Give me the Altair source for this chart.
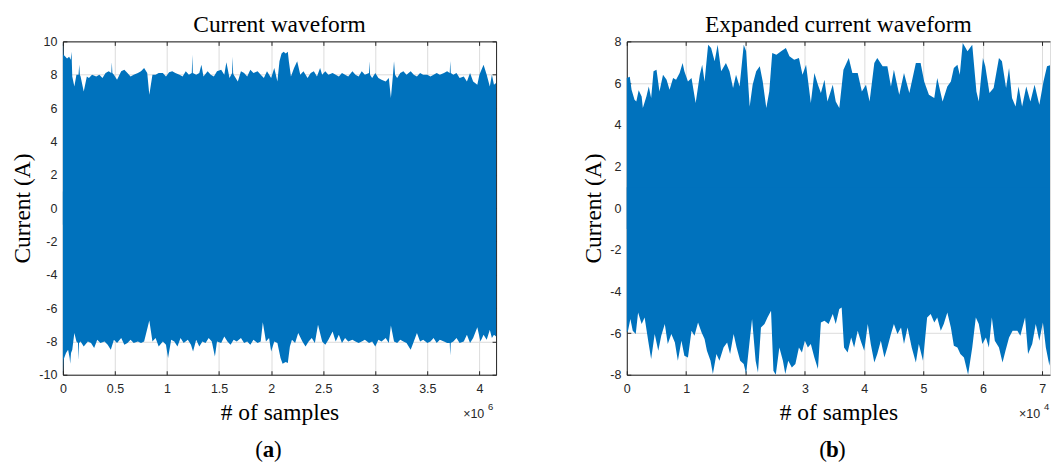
import altair as alt
import pandas as pd

BLUE = "#0072BD"
AXC = "#262626"

# ---------------- Panel (a): full current waveform (x in 1e6 samples, current in A)
a_upper = [
    (0.000, 9.9), (0.006, 9.2), (0.02, 9.1), (0.04, 8.97), (0.06, 9.07), (0.075, 8.9), (0.083, 9.37),
    (0.09, 7.9), (0.11, 7.3), (0.13, 8.0), (0.15, 8.0), (0.157, 8.6), (0.163, 8.0), (0.17, 7.9), (0.2, 7.0),
    (0.23, 7.9), (0.25, 7.8), (0.28, 8.0), (0.32, 7.9), (0.35, 8.0), (0.38, 7.8), (0.41, 8.1), (0.44, 8.2),
    (0.465, 8.1), (0.47, 8.74), (0.475, 8.1), (0.49, 8.0), (0.52, 7.7), (0.56, 8.2), (0.59, 8.3), (0.62, 8.1),
    (0.65, 7.9), (0.68, 8.0), (0.72, 8.1), (0.75, 8.2), (0.78, 8.4), (0.81, 8.1), (0.83, 6.8), (0.86, 8.0),
    (0.89, 8.0), (0.92, 8.1), (0.96, 8.1), (0.99, 7.9), (1.02, 8.15), (1.05, 8.2), (1.08, 8.1), (1.12, 8.0),
    (1.15, 7.9), (1.18, 8.2), (1.21, 8.0), (1.238, 8.1), (1.243, 9.2), (1.248, 8.1), (1.28, 8.0), (1.31, 8.1),
    (1.33, 8.6), (1.35, 7.9), (1.39, 8.2), (1.42, 8.0), (1.45, 7.9), (1.48, 8.2), (1.52, 8.3), (1.55, 8.0),
    (1.57, 8.74), (1.6, 7.8), (1.625, 8.1), (1.63, 9.07), (1.635, 8.1), (1.64, 8.0), (1.68, 7.6), (1.71, 8.2),
    (1.74, 8.1), (1.77, 7.9), (1.8, 8.3), (1.83, 8.1), (1.87, 8.2), (1.9, 8.0), (1.93, 7.8), (1.96, 8.2),
    (2.0, 7.8), (2.03, 8.4), (2.06, 7.6), (2.08, 8.8), (2.1, 9.27), (2.12, 9.37), (2.14, 9.27), (2.16, 9.37),
    (2.17, 8.8), (2.19, 7.9), (2.22, 8.4), (2.25, 8.8), (2.28, 8.0), (2.31, 8.2), (2.35, 7.8), (2.38, 8.1),
    (2.41, 8.2), (2.44, 7.9), (2.47, 8.4), (2.49, 8.0), (2.52, 8.2), (2.55, 8.0), (2.59, 8.1), (2.62, 8.0),
    (2.65, 7.9), (2.68, 8.1), (2.71, 8.0), (2.74, 7.9), (2.78, 8.2), (2.81, 8.0), (2.84, 7.9), (2.87, 8.2),
    (2.9, 8.0), (2.94, 8.1), (2.945, 8.8), (2.95, 8.0), (2.97, 7.8), (3.0, 8.1), (3.03, 7.8), (3.06, 7.7),
    (3.1, 7.6), (3.13, 7.8), (3.15, 6.6), (3.17, 8.0), (3.18, 8.8), (3.19, 8.0), (3.21, 7.8), (3.24, 8.1),
    (3.27, 8.2), (3.3, 8.0), (3.34, 8.2), (3.37, 8.0), (3.4, 7.9), (3.43, 8.1), (3.46, 8.0), (3.5, 8.0),
    (3.53, 7.9), (3.56, 8.0), (3.59, 8.1), (3.62, 8.0), (3.66, 8.1), (3.69, 8.2), (3.715, 8.1), (3.72, 8.82),
    (3.725, 8.1), (3.75, 8.0), (3.78, 8.1), (3.81, 7.8), (3.85, 7.9), (3.88, 7.6), (3.91, 8.1), (3.94, 7.6),
    (3.98, 7.4), (4.0, 8.0), (4.04, 8.6), (4.07, 8.0), (4.1, 7.3), (4.12, 8.0), (4.14, 7.4), (4.16, 7.5),
]
a_lower = [
    (0.0, -9.93), (0.006, -9.1), (0.03, -8.7), (0.05, -8.5), (0.065, -9.0), (0.07, -9.34), (0.078, -8.7),
    (0.09, -8.5), (0.11, -7.5), (0.13, -8.0), (0.145, -8.1), (0.15, -9.13), (0.155, -8.1), (0.17, -8.0),
    (0.2, -8.3), (0.24, -8.0), (0.27, -8.1), (0.3, -8.4), (0.33, -7.9), (0.36, -8.1), (0.4, -8.0),
    (0.43, -8.2), (0.46, -8.5), (0.49, -7.9), (0.52, -8.1), (0.56, -7.8), (0.59, -8.2), (0.62, -8.1),
    (0.65, -7.9), (0.68, -8.1), (0.72, -8.0), (0.75, -8.1), (0.78, -8.0), (0.83, -6.75), (0.86, -8.0),
    (0.89, -7.8), (0.92, -8.3), (0.96, -8.0), (0.99, -8.2), (1.01, -9.0), (1.04, -7.9), (1.07, -8.0),
    (1.1, -8.3), (1.13, -7.8), (1.16, -8.1), (1.2, -7.9), (1.23, -8.2), (1.25, -8.6), (1.28, -7.9),
    (1.31, -8.3), (1.34, -8.0), (1.37, -8.1), (1.4, -7.8), (1.43, -8.0), (1.46, -8.9), (1.48, -8.0),
    (1.52, -8.1), (1.55, -7.7), (1.58, -8.0), (1.61, -8.2), (1.64, -7.9), (1.67, -8.0), (1.71, -7.8),
    (1.74, -8.1), (1.77, -8.0), (1.8, -8.2), (1.83, -7.9), (1.87, -8.1), (1.9, -8.0), (1.92, -6.85),
    (1.95, -8.0), (1.98, -7.8), (2.0, -8.6), (2.03, -8.0), (2.06, -8.1), (2.09, -9.0), (2.11, -9.34),
    (2.14, -9.23), (2.16, -9.3), (2.18, -8.3), (2.2, -7.9), (2.23, -8.1), (2.26, -7.5), (2.3, -8.0),
    (2.33, -8.3), (2.36, -8.0), (2.39, -7.8), (2.42, -8.1), (2.45, -7.0), (2.49, -8.0), (2.52, -8.2),
    (2.55, -7.9), (2.59, -7.4), (2.62, -8.0), (2.65, -7.6), (2.68, -8.1), (2.71, -7.8), (2.74, -8.0),
    (2.78, -7.9), (2.81, -8.0), (2.84, -8.1), (2.87, -8.0), (2.9, -7.9), (2.94, -8.1), (2.97, -8.0),
    (3.0, -8.3), (3.03, -7.9), (3.06, -8.0), (3.1, -7.8), (3.13, -8.1), (3.15, -7.05), (3.18, -8.0),
    (3.21, -8.1), (3.24, -7.9), (3.27, -8.0), (3.3, -8.1), (3.34, -8.5), (3.37, -8.0), (3.4, -7.5),
    (3.43, -8.0), (3.46, -7.9), (3.5, -8.1), (3.53, -8.0), (3.56, -7.8), (3.59, -8.1), (3.62, -7.9),
    (3.66, -8.0), (3.69, -8.1), (3.715, -8.1), (3.72, -8.84), (3.725, -8.1), (3.75, -8.0), (3.78, -7.8),
    (3.81, -8.1), (3.85, -8.0), (3.88, -7.6), (3.91, -8.1), (3.94, -7.8), (3.98, -7.15), (4.01, -8.0),
    (4.04, -7.6), (4.07, -7.9), (4.1, -7.3), (4.12, -7.8), (4.14, -7.6), (4.16, -7.7),
]
a_xticks = [0, 0.5, 1, 1.5, 2, 2.5, 3, 3.5, 4]          # x 10^6
a_yticks = [-10, -8, -6, -4, -2, 0, 2, 4, 6, 8, 10]

# ---------------- Panel (b): expanded current waveform (x in 1e4 samples)
b_upper = [
    (0, 6.24), (0.05, 6.3), (0.08, 5.68), (0.13, 5.2), (0.16, 5.12), (0.2, 5.65), (0.25, 5.36), (0.27, 4.8),
    (0.33, 5.36), (0.37, 5.84), (0.41, 5.28), (0.45, 6.56), (0.5, 6.64), (0.55, 5.6), (0.61, 6.4),
    (0.67, 6.16), (0.72, 5.68), (0.78, 6.24), (0.83, 6.16), (0.89, 6.48), (0.94, 6.96), (0.97, 6.56),
    (1.03, 6.08), (1.09, 6.24), (1.16, 5.04), (1.23, 6.4), (1.27, 6.88), (1.31, 6.08), (1.37, 7.84),
    (1.42, 7.68), (1.48, 7.04), (1.53, 7.84), (1.59, 6.56), (1.67, 6.96), (1.73, 6.56), (1.79, 5.76),
    (1.84, 6.4), (1.9, 5.84), (1.97, 7.84), (2.01, 7.52), (2.07, 4.88), (2.12, 5.92), (2.18, 6.56),
    (2.24, 6.8), (2.29, 6.08), (2.35, 4.8), (2.4, 5.6), (2.45, 7.44), (2.52, 7.36), (2.6, 7.52),
    (2.68, 7.68), (2.74, 7.28), (2.82, 7.12), (2.9, 7.2), (2.96, 6.4), (3.02, 6.88), (3.1, 5.04),
    (3.16, 6.48), (3.22, 5.92), (3.27, 5.52), (3.33, 6.16), (3.38, 5.12), (3.47, 5.92), (3.52, 5.12),
    (3.58, 4.8), (3.65, 6.64), (3.74, 7.2), (3.8, 6.48), (3.89, 6.48), (3.96, 5.6), (4.03, 5.92),
    (4.09, 5.12), (4.17, 6.96), (4.22, 7.2), (4.31, 6.8), (4.39, 6.8), (4.45, 5.84), (4.5, 6.64),
    (4.59, 5.44), (4.67, 6.48), (4.76, 5.52), (4.87, 6.96), (4.95, 6.96), (5.01, 6.08), (5.09, 5.44),
    (5.18, 5.28), (5.23, 6.24), (5.32, 5.12), (5.4, 5.84), (5.46, 6.08), (5.51, 6.72), (5.57, 6.88),
    (5.61, 6.4), (5.66, 7.92), (5.74, 7.52), (5.82, 7.84), (5.89, 5.6), (5.93, 5.12), (6.0, 7.2),
    (6.04, 6.8), (6.11, 5.52), (6.18, 5.76), (6.27, 7.2), (6.32, 7.04), (6.39, 5.76), (6.44, 6.72),
    (6.49, 5.28), (6.55, 4.88), (6.6, 5.84), (6.66, 4.88), (6.73, 5.84), (6.8, 5.12), (6.87, 5.92),
    (6.95, 4.96), (7.02, 6.08), (7.08, 6.8), (7.13, 6.85),
]
b_lower = [
    (0, -5.97), (0.02, -5.89), (0.06, -5.33), (0.1, -5.89), (0.15, -6.05), (0.19, -5.01), (0.25, -5.57),
    (0.3, -5.25), (0.36, -6.37), (0.41, -7.25), (0.47, -6.05), (0.53, -6.85), (0.58, -6.13), (0.64, -5.57),
    (0.69, -6.53), (0.75, -6.05), (0.81, -6.45), (0.86, -7.33), (0.92, -6.37), (0.97, -7.09), (1.03, -7.17),
    (1.09, -5.89), (1.14, -6.13), (1.2, -5.49), (1.26, -5.97), (1.31, -6.29), (1.35, -6.85), (1.41, -7.33),
    (1.45, -7.97), (1.51, -7.01), (1.56, -7.33), (1.63, -6.69), (1.69, -6.45), (1.74, -7.01), (1.8, -6.05),
    (1.85, -6.69), (1.91, -7.33), (1.97, -7.49), (2.01, -7.97), (2.07, -6.37), (2.11, -5.33), (2.17, -7.33),
    (2.21, -7.89), (2.26, -5.73), (2.32, -5.57), (2.37, -5.25), (2.43, -4.93), (2.47, -7.81), (2.51, -8.0),
    (2.57, -6.69), (2.63, -7.33), (2.67, -7.97), (2.72, -7.33), (2.78, -7.65), (2.84, -7.49), (2.9, -6.69),
    (2.95, -6.93), (3.0, -6.37), (3.05, -6.69), (3.1, -6.53), (3.16, -7.17), (3.22, -7.73), (3.27, -5.49),
    (3.33, -5.41), (3.4, -5.57), (3.47, -5.09), (3.52, -5.57), (3.58, -4.85), (3.62, -4.77), (3.66, -6.69),
    (3.72, -6.93), (3.78, -6.21), (3.83, -6.69), (3.89, -5.89), (3.94, -6.37), (4.0, -6.85), (4.06, -5.57),
    (4.11, -6.53), (4.17, -7.41), (4.22, -7.01), (4.28, -6.37), (4.34, -7.17), (4.39, -6.69), (4.45, -6.05),
    (4.5, -5.57), (4.56, -6.05), (4.62, -5.73), (4.67, -6.53), (4.73, -5.73), (4.8, -6.69), (4.87, -7.41),
    (4.92, -6.53), (4.99, -7.33), (5.06, -5.25), (5.12, -5.09), (5.18, -5.49), (5.23, -5.25), (5.29, -5.89),
    (5.34, -5.57), (5.4, -5.01), (5.46, -5.73), (5.51, -6.61), (5.57, -6.69), (5.62, -7.01), (5.68, -7.17),
    (5.75, -8.0), (5.82, -6.69), (5.88, -5.25), (5.93, -5.57), (5.99, -6.53), (6.05, -6.21), (6.1, -6.69),
    (6.15, -5.25), (6.2, -6.37), (6.27, -6.69), (6.33, -7.41), (6.38, -6.85), (6.44, -6.21), (6.5, -5.89),
    (6.58, -5.89), (6.63, -6.13), (6.71, -5.25), (6.76, -7.01), (6.83, -6.53), (6.89, -5.57), (6.95, -6.37),
    (7.01, -5.49), (7.06, -6.69), (7.12, -7.57), (7.13, -7.3),
]
b_xticks = [0, 1, 2, 3, 4, 5, 6, 7]                       # x 10^4
b_yticks = [-8, -6, -4, -2, 0, 2, 4, 6, 8]

LABEL = dict(labelFont="Liberation Sans", labelFontSize=12.5, labelColor=AXC, labelFlush=False)
TITLE = dict(titleFont="Liberation Serif", titleFontSize=23.5, titleFontWeight="normal", titleColor="black")
TICK_IN = {"expr": "-4"}


def env_frame(pairs, mult):
    return pd.DataFrame({"x": [p[0] * mult for p in pairs], "i": [p[1] for p in pairs]})


def panel(upper, lower, mult, xmax, xticks, ydom, yticks, title, exp_txt, cap_letter, width, right_frame,
          anchor, exp_x):
    up = env_frame(upper, mult)
    lo = env_frame(lower, mult)
    xs = alt.Scale(domain=[0, xmax * mult], nice=False, zero=False)
    ys = alt.Scale(domain=ydom, nice=False, zero=False)
    xaxis = alt.Axis(orient="bottom", values=[t * mult for t in xticks],
                     labelExpr=f"'' + datum.value / {mult}",
                     title="# of samples", grid=True, gridColor="#DCDCDC", domainColor=AXC,
                     tickColor=AXC, tickSize=TICK_IN, labelPadding=12, titlePadding=5, **LABEL, **TITLE)
    yaxis = alt.Axis(orient="left", values=yticks, labelExpr="'' + datum.value", title="Current (A)",
                     grid=True, gridColor="#DCDCDC", domainColor=AXC, tickColor=AXC, tickSize=TICK_IN,
                     labelPadding=10, titlePadding=4, **LABEL, **TITLE)

    a_up = alt.Chart(up).mark_area(color=BLUE, opacity=1).encode(
        x=alt.X("x:Q", scale=xs, axis=xaxis),
        y=alt.Y("i:Q", scale=ys, axis=yaxis),
        y2=alt.datum(-1),
    )
    a_lo = alt.Chart(lo).mark_area(color=BLUE, opacity=1).encode(
        x=alt.X("x:Q", scale=xs, axis=None),
        y=alt.Y("i:Q", scale=ys, axis=None),
        y2=alt.datum(1),
    )
    top_axis = alt.Axis(orient="top", values=[t * mult for t in xticks], labels=False, title=None,
                        grid=False, domainColor=AXC, tickColor=AXC, tickSize=TICK_IN)
    if right_frame:
        right_axis = alt.Axis(orient="right", values=yticks, labels=False, title=None, grid=False,
                              domainColor=AXC, tickColor=AXC, tickSize=TICK_IN)
    else:
        right_axis = None
    frame = alt.Chart(up).mark_line(opacity=0).encode(
        x=alt.X("x:Q", scale=xs, axis=top_axis),
        y=alt.Y("i:Q", scale=ys, axis=right_axis),
    )
    one = alt.Data(values=[{}])
    exp_main = alt.Chart(one).mark_text(text="×10", font="Liberation Sans", fontSize=12.5, color=AXC,
                                        align="left", baseline="middle").encode(
        x=alt.value(exp_x), y=alt.value(373))
    exp_sup = alt.Chart(one).mark_text(text=exp_txt, font="Liberation Sans", fontSize=9.5, color=AXC,
                                       align="left", baseline="middle").encode(
        x=alt.value(exp_x + 25), y=alt.value(366))
    cx = 206
    cap_l = alt.Chart(one).mark_text(text="(", font="Liberation Serif", fontSize=23, color="black",
                                     align="right", baseline="middle").encode(
        x=alt.value(cx - 5.5), y=alt.value(409))
    cap_m = alt.Chart(one).mark_text(text=cap_letter, font="Liberation Serif", fontSize=23,
                                     fontWeight="bold", color="black", align="center",
                                     baseline="middle").encode(x=alt.value(cx), y=alt.value(409))
    cap_r = alt.Chart(one).mark_text(text=")", font="Liberation Serif", fontSize=23, color="black",
                                     align="left", baseline="middle").encode(
        x=alt.value(cx + 5.5), y=alt.value(409))
    layers = [a_up, a_lo, frame, exp_main, exp_sup, cap_l, cap_m, cap_r]
    if anchor:
        # invisible horizontal layout anchor fixing the left edge of the drawing
        layers.append(alt.Chart(one).mark_point(size=1, opacity=0, stroke=None, fill=None).encode(
            x=alt.value(-54), y=alt.value(160)))

    return alt.layer(*layers).resolve_axis(
        x="independent", y="independent"
    ).properties(
        width=width, height=334,
        title=alt.TitleParams(title, font="Liberation Serif", fontSize=23.5, fontWeight="normal",
                              color="black", frame="group", anchor="middle", offset=-1),
    )


pa = panel(a_upper, a_lower, 1000000, 4.16, a_xticks, [-10, 10], a_yticks,
           "Current waveform", "6", "a", 434, True, True, 401)
pb = panel(b_upper, b_lower, 10000, 7.13, b_xticks, [-8, 8], b_yticks,
           "Expanded current waveform", "4", "b", 424, False, False, 393)

chart = alt.hconcat(pa, pb, spacing=131, bounds="flush").properties(
    padding={"left": 0, "top": 4, "right": 0, "bottom": 0}
).configure_view(stroke=None).configure(background="white")

chart.save("out.html", embed_options={"renderer": "svg", "actions": False})
